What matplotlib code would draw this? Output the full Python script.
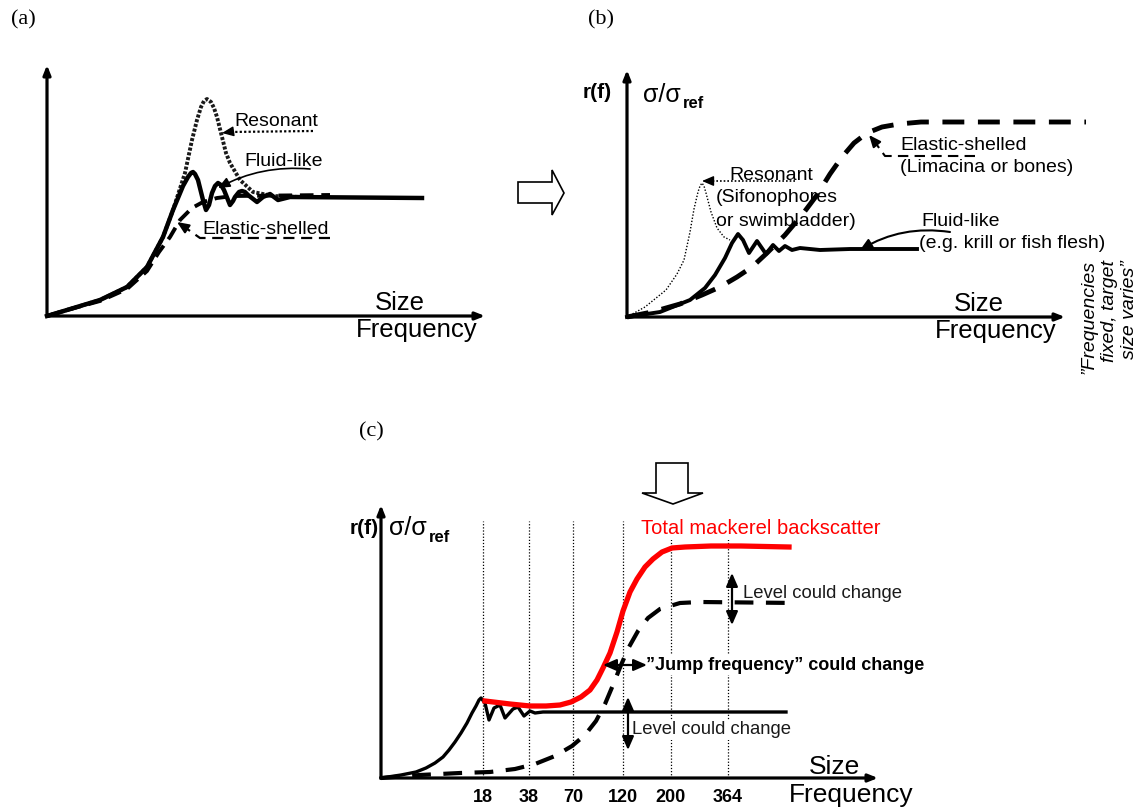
import matplotlib
matplotlib.use('Agg')
import matplotlib.pyplot as plt
from matplotlib.patches import Polygon

plt.rcParams['font.family'] = ['Liberation Sans', 'DejaVu Sans']

# ---------------- data: px right of / above each panel origin ----------------
# Panel (a)
a_res_x = [0, 20, 53, 80, 100, 116, 126, 138, 145, 150, 154, 157, 160, 164, 167, 170, 175, 179, 183,
           193, 206, 226, 253, 283]
a_res_y = [0, 6, 16, 29, 49, 79, 106, 143, 176, 196, 209, 215, 217, 214, 208, 199, 179, 163, 153,
           136, 124, 120, 119, 119]
a_flu_x = [0, 20, 53, 80, 100, 116, 126, 136, 141, 144, 146, 148, 151, 156, 159, 162, 165, 168, 171,
           174, 177, 183, 186, 188, 192, 195, 198, 201, 210, 216, 223, 231, 243, 375]
a_flu_y = [0, 6, 16, 29, 49, 79, 106, 130, 139, 143, 144, 142, 136, 116, 106, 111, 123, 130, 133,
           131, 126, 111, 115, 119, 124, 125, 124, 121, 114, 119, 122, 116, 119, 118]
a_ela_x = [0, 20, 53, 80, 100, 112, 123, 133, 145, 156, 170, 186, 283]
a_ela_y = [0, 6, 15, 27, 45, 64, 79, 96, 108, 114, 118, 120, 121]

# Panel (b)
b_res_x = [0, 18, 39, 50, 57, 63, 67, 71, 73, 75, 77, 79, 84, 90, 97, 103]
b_res_y = [0, 10, 27, 43, 57, 85, 108, 125, 131, 134, 131, 124, 105, 89, 80, 77]
b_flu_x = [0, 33, 63, 78, 88, 98, 105, 111, 116, 122, 130, 139, 146, 152, 158, 165, 173, 193, 223, 290]
b_flu_y = [0, 5, 17, 29, 42, 59, 74, 83, 77, 64, 76, 63, 72, 66, 71, 67, 69, 67, 68, 68]
b_ela_x = [0, 25, 53, 75, 93, 110, 125, 140, 158, 175, 190, 203, 215, 227, 240, 255, 272, 294, 459]
b_ela_y = [0, 5, 13, 22, 30, 40, 50, 64, 82, 102, 122, 143, 160, 174, 184, 190, 193, 195, 195]

# Panel (c)
c_flu_x = [0, 20, 35, 45, 54, 62, 68, 74, 80, 86, 91, 95, 98, 100, 104, 108, 113, 119, 124, 132,
           137, 143, 149, 154, 162, 405]
c_flu_y = [0, 3, 6, 10, 15, 21, 28, 36, 45, 55, 65, 72, 78, 80, 75, 58, 70, 73, 60, 69,
           71, 62, 67, 65, 66, 66]
c_tot_x = [104, 129, 149, 165, 179, 190, 200, 209, 216, 222, 229, 236, 242, 249, 256, 264, 272, 281,
           291, 304, 330, 360, 408]
c_tot_y = [77, 74, 72, 72, 73, 76, 81, 88, 98, 110, 125, 146, 167, 186, 199, 211, 219, 226,
           230, 231, 232, 232, 231]
c_ela_x = [0, 39, 79, 109, 134, 154, 174, 191, 204, 215, 224, 232, 240, 248, 257, 267, 279, 299, 319, 416]
c_ela_y = [0, 3, 5, 6, 9, 14, 22, 32, 43, 57, 74, 93, 113, 131, 147, 160, 169, 175, 176, 175]
freq_labels = ['18', '38', '70', '120', '200', '364']
freq_pos = [102, 148, 192, 242, 290, 347]

# ---------------- figure ----------------
FW, FH = 1142, 809
fig = plt.figure(figsize=(FW / 100, FH / 100), dpi=100)

overlay = fig.add_axes([0, 0, 1, 1], zorder=0)
overlay.set_xlim(0, FW)
overlay.set_ylim(FH, 0)
overlay.axis('off')


def panel(x0, y0, w, h):
    ax = fig.add_axes([x0 / FW, (FH - y0) / FH, w / FW, h / FH], zorder=2)
    ax.set_xlim(0, w)
    ax.set_ylim(0, h)
    ax.axis('off')
    ax.patch.set_alpha(0)
    return ax


def axis_arrows(ax, w, h):
    for tip in [(w, 0), (0, h)]:
        ax.annotate('', xy=tip, xytext=(0, 0), annotation_clip=False,
                    arrowprops=dict(arrowstyle='-|>,head_length=0.55,head_width=0.22',
                                    lw=2.3, color='k', shrinkA=0, shrinkB=0))


def head(ax, tip, frm, lw=1.0):
    ax.annotate('', xy=tip, xytext=frm, annotation_clip=False,
                arrowprops=dict(arrowstyle='-|>,head_length=0.7,head_width=0.3',
                                lw=lw, color='k', shrinkA=0, shrinkB=0))


LAB = 14

# ---------------- panel (a) ----------------
ax = panel(47, 316, 438, 251)
axis_arrows(ax, 438, 251)
ax.plot(a_res_x, a_res_y, color='#1a1a1a', lw=2.8, ls=(0, (0.8, 0.45)), clip_on=False, zorder=2)
ax.plot(a_ela_x, a_ela_y, color='k', lw=2.8, ls=(0, (3.5, 2)), clip_on=False, zorder=3)
ax.plot(a_flu_x, a_flu_y, color='k', lw=3.2, clip_on=False, zorder=4)
ax.text(229, 194, 'Resonant', fontsize=LAB, ha='center', va='center')
ax.plot([266, 182], [185, 184], color='k', lw=1.6, ls=(0, (1, 1)))
head(ax, (175, 183), (182, 184))
ax.text(237, 154, 'Fluid-like', fontsize=LAB, ha='center', va='center')
ax.annotate('', xy=(171, 128), xytext=(263, 147),
            arrowprops=dict(arrowstyle='-|>,head_length=0.7,head_width=0.3', lw=1.2, color='k',
                            shrinkA=0, shrinkB=0, connectionstyle='arc3,rad=0.15'))
ax.text(219, 86, 'Elastic-shelled', fontsize=LAB, ha='center', va='center')
ax.plot([283, 153, 136], [78, 78, 90], color='k', lw=1.6, ls=(0, (5, 3)))
head(ax, (130, 94), (136, 90), lw=1.5)
ax.text(353, 13, 'Size', fontsize=18.5, ha='center', va='center')
ax.text(370, -14, 'Frequency', fontsize=18.5, ha='center', va='center')

# ---------------- panel (b) ----------------
ax = panel(627, 317, 438, 247)
axis_arrows(ax, 438, 247)
ax.plot(b_res_x, b_res_y, color='k', lw=1.0, ls=(0, (1, 1.3)), clip_on=False, zorder=2)
ax.plot(b_flu_x, b_flu_y, color='k', lw=2.8, clip_on=False, zorder=3)
ax.plot(b_ela_x, b_ela_y, color='k', lw=3.5, ls=(0, (4.5, 2.8)), clip_on=False, zorder=5)
ax.text(-30, 224, 'r(f)', fontsize=15, fontweight='bold', ha='center', va='center')
ax.text(16, 222, 'σ/σ', fontsize=18, ha='left', va='center')
ax.text(56, 213, 'ref', fontsize=12, fontweight='bold', ha='left', va='center')
ax.text(144, 142, 'Resonant', fontsize=LAB, ha='center', va='center')
ax.text(89, 119, '(Sifonophores', fontsize=LAB, ha='left', va='center')
ax.text(89, 96, 'or swimbladder)', fontsize=LAB, ha='left', va='center')
ax.plot([168, 81], [136, 136], color='k', lw=1.2, ls=(0, (1, 1.2)))
head(ax, (75, 136), (81, 136))
ax.text(273, 172, 'Elastic-shelled', fontsize=LAB, ha='left', va='center')
ax.text(273, 149, '(Limacina or bones)', fontsize=LAB, ha='left', va='center')
ax.plot([348, 258, 247], [161, 161, 176], color='k', lw=1.5, ls=(0, (5, 3)))
head(ax, (242, 182), (247, 176), lw=1.5)
ax.text(294, 95, 'Fluid-like', fontsize=LAB, ha='left', va='center')
ax.text(292, 74, '(e.g. krill or fish flesh)', fontsize=LAB, ha='left', va='center')
ax.annotate('', xy=(233, 67), xytext=(323, 85),
            arrowprops=dict(arrowstyle='-|>,head_length=0.7,head_width=0.3', lw=1.5, color='k',
                            shrinkA=0, shrinkB=0, connectionstyle='arc3,rad=0.18'))
ax.text(352, 13, 'Size', fontsize=18.5, ha='center', va='center')
ax.text(369, -14, 'Frequency', fontsize=18.5, ha='center', va='center')
ax.text(482, 57, '”Frequencies\nfixed, target\nsize varies”', rotation=90, fontsize=14,
        style='italic', ha='center', va='top', multialignment='right', linespacing=1.25)

# ---------------- panel (c) ----------------
ax = panel(381, 778, 497, 273)
axis_arrows(ax, 497, 273)
for p in freq_pos:
    ax.plot([p, p], [0, 257], color='k', lw=0.9, ls=(0, (1, 1.5)), zorder=1)
ax.plot(c_ela_x, c_ela_y, color='k', lw=3.0, ls=(0, (4.5, 3)), clip_on=False, zorder=3)
ax.plot(c_flu_x, c_flu_y, color='k', lw=2.4, clip_on=False, zorder=4)
ax.plot(c_tot_x, c_tot_y, color='#ff0000', lw=3.8, clip_on=False, zorder=5,
        solid_joinstyle='round')
for p, lab in zip(freq_pos, freq_labels):
    ax.text(p, -19, lab, fontsize=13, fontweight='bold', ha='center', va='center')
ax.text(-17, 250, 'r(f)', fontsize=15, fontweight='bold', ha='center', va='center')
ax.text(8, 250, 'σ/σ', fontsize=18, ha='left', va='center')
ax.text(48, 241, 'ref', fontsize=12, fontweight='bold', ha='left', va='center')
wb = dict(facecolor='white', edgecolor='none', pad=1)
ax.text(260, 249, 'Total mackerel backscatter', fontsize=14.5, color='#ff0000', ha='left',
        va='center', bbox=wb, zorder=6)
ax.text(362, 185, 'Level could change', fontsize=13.3, color='#1a1a1a', ha='left', va='center',
        bbox=wb, zorder=2)
ax.text(251, 48, 'Level could change', fontsize=13.3, color='#1a1a1a', ha='left', va='center',
        bbox=wb, zorder=2)
ax.text(265, 113, '”Jump frequency” could change', fontsize=13, fontweight='bold', ha='left',
        va='center', bbox=wb, zorder=2)
dbl = dict(arrowstyle='<|-|>,head_length=0.8,head_width=0.35', lw=1.6, color='k',
           shrinkA=0, shrinkB=0)
ax.annotate('', xy=(351, 205), xytext=(351, 153), arrowprops=dbl, zorder=7)
ax.annotate('', xy=(247, 81), xytext=(247, 28), arrowprops=dbl, zorder=7)
ax.annotate('', xy=(266, 113), xytext=(222, 113), arrowprops=dbl, zorder=7)
ax.text(453, 11, 'Size', fontsize=19, ha='center', va='center')
ax.text(470, -17, 'Frequency', fontsize=19, ha='center', va='center')

# ---------------- panel letters and block arrows ----------------
for x, y, s in [(23, 20, '(a)'), (601, 20, '(b)'), (371, 432, '(c)')]:
    overlay.text(x, y, s, fontsize=16, family='Liberation Serif', ha='center', va='center')
overlay.add_patch(Polygon([(518, 182), (552, 182), (552, 170), (564, 193), (552, 215), (552, 203),
                           (518, 203)], closed=True, facecolor='white', edgecolor='k', lw=1.2))
overlay.add_patch(Polygon([(656, 463), (688, 463), (688, 493), (703, 493), (673, 504), (642, 493),
                           (656, 493)], closed=True, facecolor='white', edgecolor='k', lw=1.2))

fig.savefig('out.png', dpi=100, facecolor='white')
